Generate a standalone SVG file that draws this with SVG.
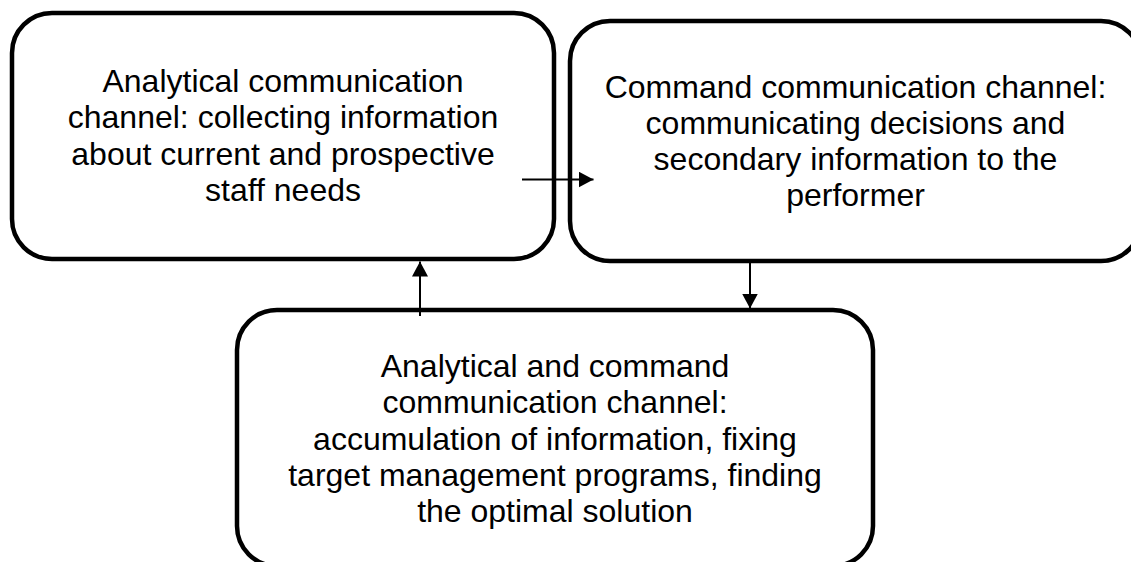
<svg xmlns="http://www.w3.org/2000/svg" width="1131" height="562" viewBox="0 0 1131 562">
<style>
.box{fill:#fff;stroke:#000;stroke-width:4.5}
.t{font-family:"Liberation Sans",Arial,sans-serif;font-size:32px;fill:#000;text-anchor:middle}
.c{stroke:#000;stroke-width:2;fill:none;marker-end:url(#ah)}
</style>
<defs>
<marker id="ah" markerUnits="userSpaceOnUse" markerWidth="15" markerHeight="16" refX="15" refY="8" orient="auto">
<path d="M0,0 L15,8 L0,16 z" fill="#000"/>
</marker>
</defs>
<rect width="1131" height="562" fill="#fff"/>
<g id="node-analytical">
<rect class="box" x="12" y="13" width="542" height="246" rx="40" ry="40"/>
<text class="t"><tspan x="283" y="92">Analytical communication</tspan><tspan x="283" y="128.3">channel: collecting information</tspan><tspan x="283" y="164.6">about current and prospective</tspan><tspan x="283" y="200.9">staff needs</tspan></text>
</g>
<g id="node-command">
<rect class="box" x="570" y="21" width="571" height="240" rx="40" ry="40"/>
<text class="t"><tspan x="855.5" y="98.3">Command communication channel:</tspan><tspan x="855.5" y="134.3">communicating decisions and</tspan><tspan x="855.5" y="170.3">secondary information to the</tspan><tspan x="855.5" y="206.3">performer</tspan></text>
</g>
<g id="node-combined">
<rect class="box" x="237" y="310" width="636" height="256" rx="40" ry="40"/>
<text class="t"><tspan x="555" y="377">Analytical and command</tspan><tspan x="555" y="413.2">communication channel:</tspan><tspan x="555" y="449.5">accumulation of information, fixing</tspan><tspan x="555" y="485.7">target management programs, finding</tspan><tspan x="555" y="522">the optimal solution</tspan></text>
</g>
<g id="connectors">
<line class="c" x1="522" y1="179.5" x2="593.5" y2="179.5"/>
<line class="c" x1="420" y1="316" x2="420" y2="261.5"/>
<line class="c" x1="750" y1="262" x2="750" y2="308.5"/>
</g>
</svg>
